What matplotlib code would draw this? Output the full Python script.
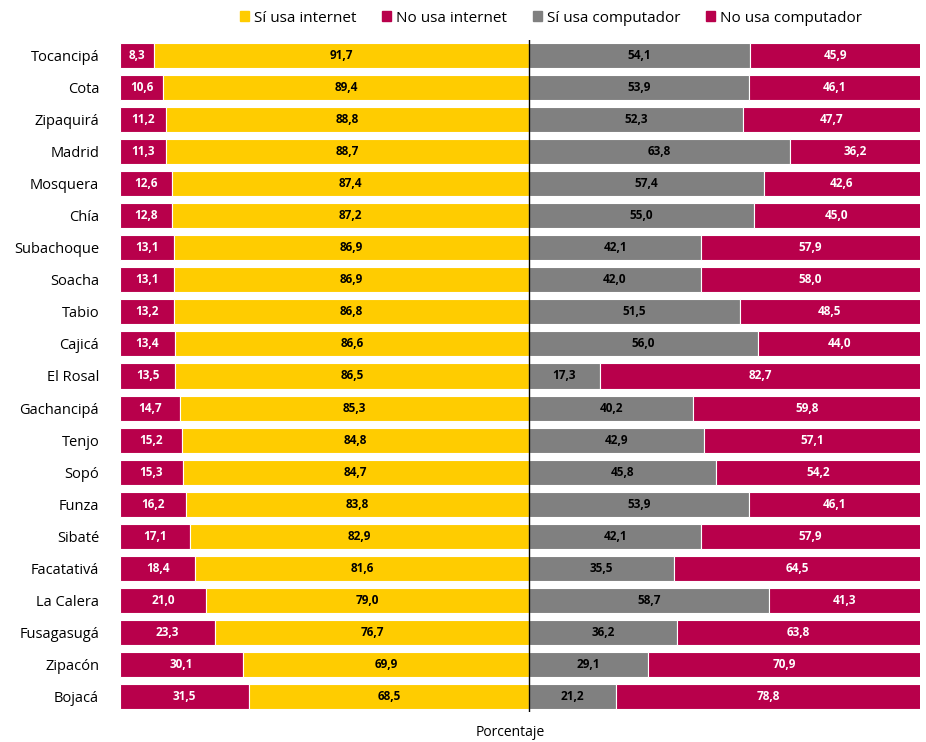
import matplotlib.pyplot as plt
from matplotlib.patches import Patch

plt.rcParams['font.family'] = ['Open Sans', 'DejaVu Sans']

municipios = ['Tocancipá', 'Cota', 'Zipaquirá', 'Madrid', 'Mosquera', 'Chía',
              'Subachoque', 'Soacha', 'Tabio', 'Cajicá', 'El Rosal', 'Gachancipá',
              'Tenjo', 'Sopó', 'Funza', 'Sibaté', 'Facatativá', 'La Calera',
              'Fusagasugá', 'Zipacón', 'Bojacá']
no_internet = [8.3, 10.6, 11.2, 11.3, 12.6, 12.8, 13.1, 13.1, 13.2, 13.4, 13.5,
               14.7, 15.2, 15.3, 16.2, 17.1, 18.4, 21.0, 23.3, 30.1, 31.5]
si_internet = [91.7, 89.4, 88.8, 88.7, 87.4, 87.2, 86.9, 86.9, 86.8, 86.6, 86.5,
               85.3, 84.8, 84.7, 83.8, 82.9, 81.6, 79.0, 76.7, 69.9, 68.5]
si_computador = [54.1, 53.9, 52.3, 63.8, 57.4, 55.0, 42.1, 42.0, 51.5, 56.0, 17.3,
                 40.2, 42.9, 45.8, 53.9, 42.1, 35.5, 58.7, 36.2, 29.1, 21.2]
no_computador = [45.9, 46.1, 47.7, 36.2, 42.6, 45.0, 57.9, 58.0, 48.5, 44.0, 82.7,
                 59.8, 57.1, 54.2, 46.1, 57.9, 64.5, 41.3, 63.8, 70.9, 78.8]

amarillo = '#FFCC00'
rojo = '#B8004B'
gris = '#808080'

x_max = 95.6

fig = plt.figure(figsize=(9.26, 7.42), dpi=100)
ax = fig.add_axes([120 / 926, 1 - 712 / 742, 800 / 926, 672 / 742])

y = list(range(len(municipios)))
h = 0.78

def fmt(v):
    return f'{v:.1f}'.replace('.', ',')

for i in y:
    # lado izquierdo: internet
    ax.barh(i, no_internet[i], left=-100, height=h, color=rojo, edgecolor='white', linewidth=0.8)
    ax.barh(i, si_internet[i], left=-si_internet[i], height=h, color=amarillo, edgecolor='white', linewidth=0.8)
    # lado derecho: computador
    ax.barh(i, si_computador[i], left=0, height=h, color=gris, edgecolor='white', linewidth=0.8)
    ax.barh(i, no_computador[i], left=si_computador[i], height=h, color=rojo, edgecolor='white', linewidth=0.8)

    ax.text(-100 + no_internet[i] / 2, i, fmt(no_internet[i]), ha='center', va='center',
            color='white', fontsize=8.5, fontweight='bold')
    ax.text(-si_internet[i] / 2, i, fmt(si_internet[i]), ha='center', va='center',
            color='black', fontsize=8.5, fontweight='bold')
    ax.text(si_computador[i] / 2, i, fmt(si_computador[i]), ha='center', va='center',
            color='black', fontsize=8.5, fontweight='bold')
    ax.text((si_computador[i] + x_max) / 2, i, fmt(no_computador[i]), ha='center', va='center',
            color='white', fontsize=8.5, fontweight='bold')

ax.axvline(0, color='black', linewidth=1)

ax.set_xlim(-100, x_max)
ax.set_ylim(20.47, -0.47)
ax.set_yticks(y)
ax.set_yticklabels(municipios, fontsize=10.5)
ax.set_xticks([])
ax.tick_params(axis='y', length=0, pad=15)
for s in ax.spines.values():
    s.set_visible(False)

fig.text(510 / 926, 1 - 733 / 742, 'Porcentaje', ha='center', va='center', fontsize=10)

handles = [Patch(color=amarillo, label='Sí usa internet'),
           Patch(color=rojo, label='No usa internet'),
           Patch(color=gris, label='Sí usa computador'),
           Patch(color=rojo, label='No usa computador')]
fig.legend(handles=handles, loc='center', bbox_to_anchor=(551 / 926, 1 - 18 / 742), ncol=4,
           frameon=False, fontsize=11, handlelength=0.6, handleheight=0.6,
           handletextpad=0.3, columnspacing=1.7)

plt.savefig('out.png', dpi=100)
